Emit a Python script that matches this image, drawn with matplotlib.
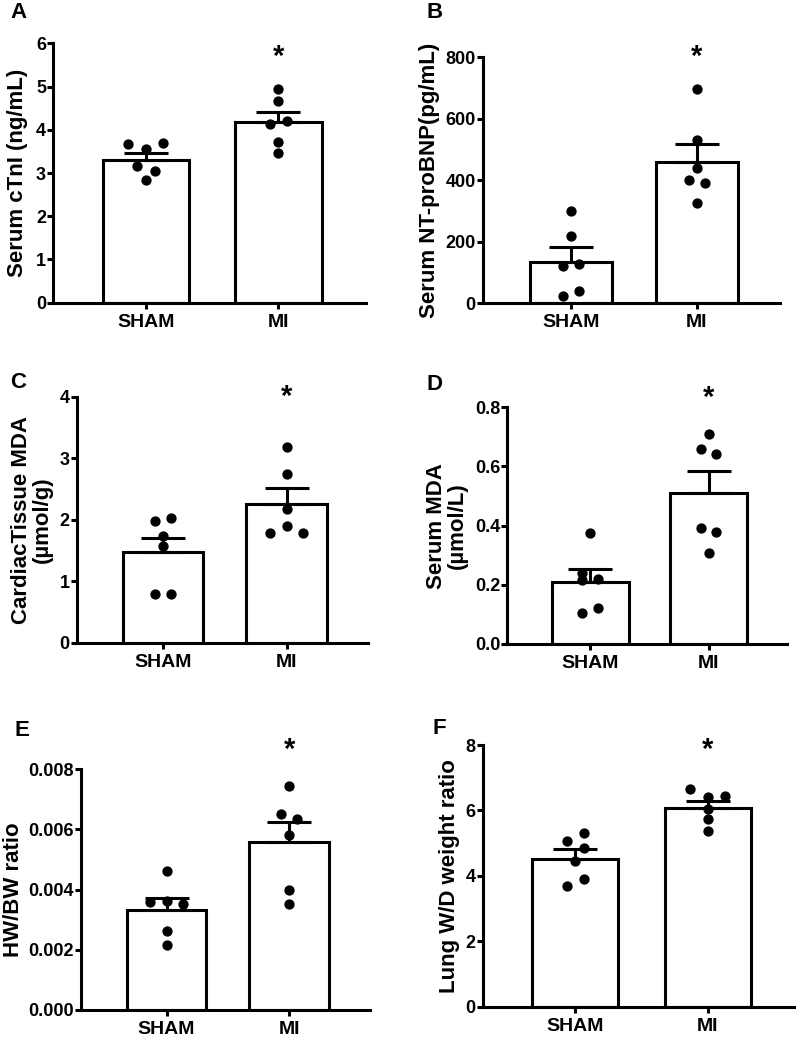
import matplotlib
matplotlib.use("Agg")
import matplotlib.pyplot as plt
import numpy as np
from matplotlib.ticker import FormatStrFormatter

plt.rcParams['font.family'] = ['Liberation Sans', 'DejaVu Sans']
plt.rcParams['font.weight'] = 'bold'

groups = ["SHAM", "MI"]

# Panel A: Serum cTnI (ng/mL)
a_sham = [3.66, 3.55, 3.69, 3.17, 3.04, 2.83]
a_mi = [4.94, 4.67, 4.13, 4.20, 3.71, 3.47]
a_mean = [3.30, 4.17]
a_sem = [0.17, 0.24]

# Panel B: Serum NT-proBNP (pg/mL)
b_sham = [299, 219, 122, 129, 24, 39]
b_mi = [696, 531, 439, 401, 390, 325]
b_mean = [135, 461]
b_sem = [47, 57]

# Panel C: Cardiac tissue MDA (umol/g)
c_sham = [1.98, 2.02, 1.73, 1.57, 0.80, 0.80]
c_mi = [3.18, 2.75, 2.18, 1.79, 1.90, 1.79]
c_mean = [1.47, 2.25]
c_sem = [0.24, 0.26]

# Panel D: Serum MDA (umol/L)
d_sham = [0.374, 0.241, 0.216, 0.220, 0.104, 0.121]
d_mi = [0.709, 0.658, 0.641, 0.393, 0.380, 0.309]
d_mean = [0.210, 0.512]
d_sem = [0.044, 0.074]

# Panel E: HW/BW ratio
e_sham = [0.00462, 0.00358, 0.00363, 0.00351, 0.00264, 0.00216]
e_mi = [0.00746, 0.00652, 0.00634, 0.00582, 0.00399, 0.00353]
e_mean = [0.00332, 0.00559]
e_sem = [0.00039, 0.00065]

# Panel F: Lung W/D weight ratio
f_sham = [5.08, 5.30, 4.86, 4.46, 3.69, 3.89]
f_mi = [6.65, 6.42, 6.44, 6.04, 5.74, 5.36]
f_mean = [4.52, 6.06]
f_sem = [0.30, 0.24]

ylabels = ["Serum cTnI (ng/mL)", "Serum NT-proBNP(pg/mL)",
           "CardiacTissue MDA\n(\u00b5mol/g)", "Serum MDA\n(\u00b5mol/L)",
           "HW/BW ratio", "Lung W/D weight ratio"]
letters = ["A", "B", "C", "D", "E", "F"]

# ---- layout (pixels) ----
W, H = 796, 1040
panels = [
    dict(sham=a_sham, mi=a_mi, mean=a_mean, sem=a_sem, box=(53, 43.3, 366, 302.7), ymax=6, step=1, fmt="%d",
         offs=([-2, 0, 2, -1, 1, 0], [0, 0, -1, 1, 0, 0]), star=0.948, letter=(10, 13), lpad=6),
    dict(sham=b_sham, mi=b_mi, mean=b_mean, sem=b_sem, box=(482.7, 57.3, 780, 303.3), ymax=800, step=200, fmt="%d",
         offs=([0, 0, -1, 1, -1, 1], [0, 0, 0, -1, 1, 0]), star=1.0, letter=(427, 12), lpad=4),
    dict(sham=c_sham, mi=c_mi, mean=c_mean, sem=c_sem, box=(76.7, 396.7, 368, 642.7), ymax=4, step=1, fmt="%d",
         offs=([-1, 1, 0, 0, -1, 1], [0, 0, 0, -2, 0, 2]), star=1.0, letter=(10, 383), lpad=5),
    dict(sham=d_sham, mi=d_mi, mean=d_mean, sem=d_sem, box=(507.3, 407.3, 786.7, 644), ymax=0.8, step=0.2, fmt="%.1f",
         offs=([0, -1, -1, 1, -1, 1], [0, -1, 1, -1, 1, 0]), star=1.04, letter=(427, 385), lpad=5),
    dict(sham=e_sham, mi=e_mi, mean=e_mean, sem=e_sem, box=(80.7, 769.3, 370, 1010), ymax=0.008, step=0.002, fmt="%.3f",
         offs=([0, -2, 0, 2, 0, 0], [0, -1, 1, 0, 0, 0]), star=1.08, letter=(15, 730), lpad=3),
    dict(sham=f_sham, mi=f_mi, mean=f_mean, sem=f_sem, box=(482.7, 745, 795, 1006.7), ymax=8, step=2, fmt="%d",
         offs=([-1, 1, 1, 0, -1, 1], [-2, 0, 2, 0, 0, 0]), star=0.98, letter=(433, 728), lpad=4),
]

fig = plt.figure(figsize=(W / 100, H / 100), dpi=100)
LW = 2.2
xs = np.arange(len(groups))
bar_w = 0.65
jit = 0.066

for i, p in enumerate(panels):
    x0, y0, x1, y1 = p["box"]
    ax = fig.add_axes([x0 / W, 1 - y1 / H, (x1 - x0) / W, (y1 - y0) / H])
    ax.bar(xs, p["mean"], width=bar_w, color="white", edgecolor="black", linewidth=LW, zorder=2)
    ax.errorbar(xs, p["mean"], yerr=[[0, 0], p["sem"]], fmt="none", ecolor="black",
                elinewidth=LW, capsize=16, capthick=LW, zorder=3)
    for gi, vals in enumerate([p["sham"], p["mi"]]):
        ox = np.array(p["offs"][gi]) * jit
        ax.plot(xs[gi] + ox, vals, "o", color="black", markersize=6.4, zorder=4, clip_on=False)
    ax.set_xlim(-0.7, 1.66)
    ax.set_ylim(0, p["ymax"])
    ax.set_yticks(np.arange(0, p["ymax"] + p["step"] / 2, p["step"]))
    ax.yaxis.set_major_formatter(FormatStrFormatter(p["fmt"]))
    ax.set_xticks(xs)
    ax.set_xticklabels(groups)
    for s in ["top", "right"]:
        ax.spines[s].set_visible(False)
    for s in ["left", "bottom"]:
        ax.spines[s].set_linewidth(LW)
    ax.tick_params(axis="y", length=4, width=LW, labelsize=13, pad=1)
    ax.tick_params(axis="x", length=4, width=LW, labelsize=14, pad=4)
    for lab in ax.get_xticklabels() + ax.get_yticklabels():
        lab.set_fontweight("bold")
    ax.set_ylabel(ylabels[i], fontsize=16, fontweight="bold", labelpad=p["lpad"], linespacing=1.0)
    ax.text(xs[1], p["ymax"] * p["star"], "*", ha="center", va="center", fontsize=21,
            fontweight="bold", clip_on=False)
    lx, ly = p["letter"]
    fig.text(lx / W, 1 - ly / H, letters[i], fontsize=16, fontweight="bold", ha="left", va="center")

fig.savefig("out.png", dpi=100)
